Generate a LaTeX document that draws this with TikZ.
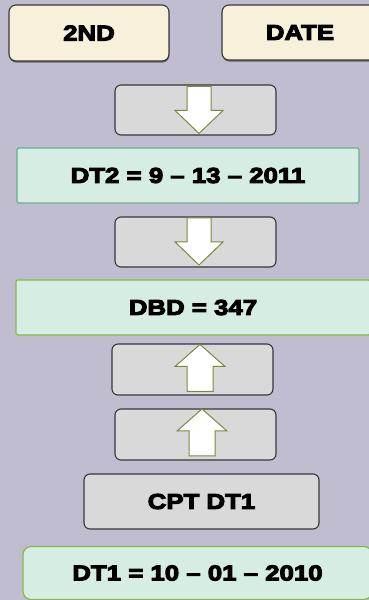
\documentclass[tikz,border=0pt]{standalone}
\usepackage{fontspec}
\usetikzlibrary{calc,shadows}
\newfontfamily\boxfont{Liberation Sans}[BoldFeatures={FakeStretch=1.2,FakeBold=5}]

\definecolor{bgcol}{RGB}{192,189,208}
\definecolor{creamfill}{RGB}{247,240,218}
\definecolor{greyfill}{RGB}{217,217,217}
\definecolor{mintfill}{RGB}{213,237,226}
\definecolor{tealedge}{RGB}{110,172,140}
\definecolor{limeedge}{RGB}{138,184,72}
\definecolor{oliveedge}{RGB}{122,138,62}
\definecolor{darkedge}{RGB}{55,55,55}

\tikzset{
  lbl/.style={font=\boxfont\bfseries\fontsize{21.5}{25}\selectfont, text=black},
  keybox/.style={lbl, draw=darkedge, line width=1.1pt, fill=creamfill,
    rounded corners=7pt, inner sep=0pt,
    drop shadow={shadow xshift=0.4pt, shadow yshift=-1.6pt, opacity=0.7, fill=black!75}},
  greybox/.style={lbl, draw=darkedge, line width=1.1pt, fill=greyfill,
    rounded corners=6pt, inner sep=0pt},
  resultbox/.style={lbl, fill=mintfill, line width=1.2pt, inner sep=0pt},
  blockarrow/.style={draw=oliveedge, line width=1pt, fill=white, line join=miter},
  pics/downarr/.style={code={
    \draw[blockarrow] (-12,0) -- (12,0) -- (12,24) -- (24,24) -- (0,47)
      -- (-24,24) -- (-12,24) -- cycle;}},
  pics/uparr/.style={code={
    \draw[blockarrow] (0,0) -- (25,22) -- (13,22) -- (13,47) -- (-13,47)
      -- (-13,22) -- (-25,22) -- cycle;}},
}

\begin{document}
\begin{tikzpicture}[x=1pt, y=-1pt]
  \fill[bgcol] (0,0) rectangle (369,600);
  \useasboundingbox (0,0) rectangle (369,600);
  \clip (0,0) rectangle (369,600);

  % keypad keys
  \node[keybox, minimum width=160, minimum height=56] (second) at (89,33) {2ND};
  \node[keybox, minimum width=156, minimum height=55] (date) at (300,32.5) {DATE};

  % step 1: down
  \node[greybox, minimum width=161, minimum height=50] (step1) at (195.5,110) {};
  \pic at ($(step1.north)+(3.5,2)$) {downarr};

  \node[resultbox, draw=tealedge, rounded corners=1.5pt,
        minimum width=342, minimum height=55] (dtwo) at (188,175.5) {DT2 = 9 – 13 – 2011};

  % step 2: down
  \node[greybox, minimum width=161, minimum height=50] (step2) at (195.5,242) {};
  \pic at ($(step2.north)+(3.5,1.5)$) {downarr};

  \node[resultbox, draw=limeedge, rounded corners=1.5pt,
        minimum width=354, minimum height=55] (dbd) at (193,307.5) {DBD = 347};

  % steps 3 and 4: up
  \node[greybox, minimum width=161, minimum height=51] (step3) at (192.5,369.5) {};
  \pic at ($(step3.north)+(7.5,1)$) {uparr};
  \node[greybox, minimum width=161, minimum height=51] (step4) at (195.5,434.5) {};
  \pic at ($(step4.north)+(6.5,0.5)$) {uparr};

  \node[greybox, minimum width=235, minimum height=55] (cpt) at (201.5,501.5) {CPT DT1};

  \node[resultbox, draw=limeedge, rounded corners=8pt,
        minimum width=349, minimum height=53] (done) at (197.5,573) {DT1 = 10 – 01 – 2010};
\end{tikzpicture}
\end{document}
